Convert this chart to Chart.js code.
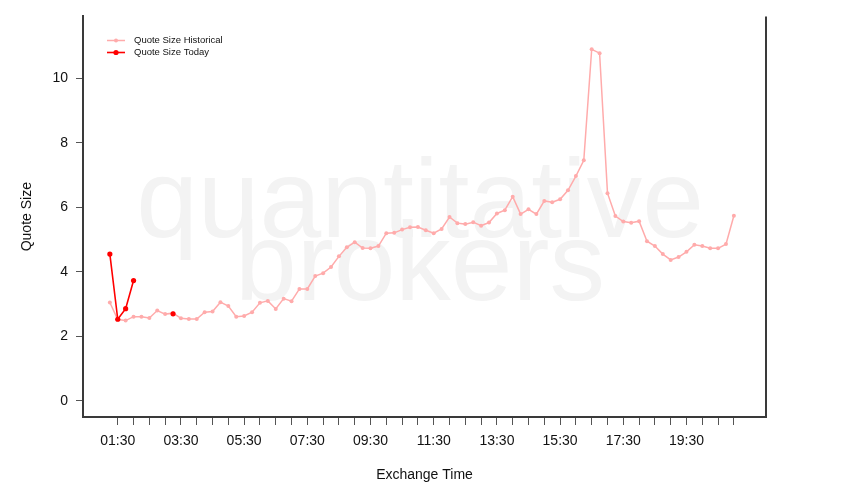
<!DOCTYPE html>
<html>
<head>
<meta charset="utf-8">
<script src="https://cdn.jsdelivr.net/npm/chart.js@4"></script>
<style>
  html, body { margin: 0; padding: 0; background: #fff; }
  canvas { display: block; }
</style>
</head>
<body>
<canvas id="quoteChart" width="850" height="500"></canvas>
<script>
const times = [
  '01:15', '01:30', '01:45', '02:00', '02:15', '02:30', '02:45', '03:00',
  '03:15', '03:30', '03:45', '04:00', '04:15', '04:30', '04:45', '05:00',
  '05:15', '05:30', '05:45', '06:00', '06:15', '06:30', '06:45', '07:00',
  '07:15', '07:30', '07:45', '08:00', '08:15', '08:30', '08:45', '09:00',
  '09:15', '09:30', '09:45', '10:00', '10:15', '10:30', '10:45', '11:00',
  '11:15', '11:30', '11:45', '12:00', '12:15', '12:30', '12:45', '13:00',
  '13:15', '13:30', '13:45', '14:00', '14:15', '14:30', '14:45', '15:00',
  '15:15', '15:30', '15:45', '16:00', '16:15', '16:30', '16:45', '17:00',
  '17:15', '17:30', '17:45', '18:00', '18:15', '18:30', '18:45', '19:00',
  '19:15', '19:30', '19:45', '20:00', '20:15', '20:30', '20:45', '21:00'
];

const historicalSize = [
  3.05, 2.52, 2.49, 2.61, 2.61, 2.57, 2.80, 2.69,
  2.72, 2.56, 2.54, 2.54, 2.75, 2.77, 3.06, 2.94,
  2.61, 2.63, 2.75, 3.04, 3.10, 2.85, 3.17, 3.09,
  3.47, 3.47, 3.87, 3.96, 4.15, 4.48, 4.76, 4.92,
  4.74, 4.73, 4.80, 5.20, 5.21, 5.31, 5.38, 5.39,
  5.29, 5.20, 5.33, 5.70, 5.51, 5.48, 5.54, 5.43,
  5.53, 5.81, 5.91, 6.33, 5.79, 5.94, 5.79, 6.20,
  6.16, 6.25, 6.53, 6.97, 7.46, 10.90, 10.78, 6.44,
  5.73, 5.56, 5.52, 5.57, 4.95, 4.80, 4.55, 4.37,
  4.46, 4.62, 4.84, 4.80, 4.73, 4.73, 4.86, 5.74
];

// today only has the first few slots
const todaySize = [4.55, 2.53, 2.86, 3.73, null, null, null, null, 2.70];

const xTickLabels = ['01:30', '03:30', '05:30', '07:30', '09:30', '11:30', '13:30', '15:30', '17:30', '19:30'];
const yTicks = [0, 2, 4, 6, 8, 10];

const histColor = '#ffabab';
const todayColor = '#ff0000';
const frameColor = '#3a3a3a';
const fontFamily = '"Liberation Sans", Arial, Helvetica, sans-serif';

function toMinutes(t) {
  const [h, m] = t.split(':').map(Number);
  return h * 60 + m;
}

function toClock(min) {
  const h = Math.floor(min / 60);
  const m = min % 60;
  return String(h).padStart(2, '0') + ':' + String(m).padStart(2, '0');
}

const historicalPoints = historicalSize.map((v, i) => ({ x: toMinutes(times[i]), y: v }));
const todayPoints = todaySize.map((v, i) => ({ x: toMinutes(times[i]), y: v }));

const watermark = {
  id: 'watermark',
  beforeDraw(chart) {
    const ctx = chart.ctx;
    ctx.save();
    ctx.fillStyle = '#f3f3f3';
    ctx.font = '111px ' + fontFamily;
    ctx.textAlign = 'center';
    ctx.textBaseline = 'alphabetic';
    ctx.fillText('quantitative', 420, 237);
    ctx.fillText('brokers', 420, 300);
    ctx.restore();
  }
};

const frameAndLegend = {
  id: 'frameAndLegend',
  afterDraw(chart) {
    const ctx = chart.ctx;
    const area = chart.chartArea;
    ctx.save();
    // right side of the box
    ctx.strokeStyle = frameColor;
    ctx.lineWidth = 2;
    ctx.beginPath();
    ctx.moveTo(area.right, area.top);
    ctx.lineTo(area.right, area.bottom + 1);
    ctx.stroke();

    // legend in the top left corner
    const items = [chart.data.datasets[1], chart.data.datasets[0]];
    ctx.font = '9.5px ' + fontFamily;
    ctx.textBaseline = 'middle';
    ctx.textAlign = 'left';
    items.forEach((ds, i) => {
      const y = 40.5 + i * 12;
      ctx.strokeStyle = ds.borderColor;
      ctx.lineWidth = ds.borderWidth;
      ctx.beginPath();
      ctx.moveTo(107, y);
      ctx.lineTo(125, y);
      ctx.stroke();
      ctx.fillStyle = ds.pointBackgroundColor;
      ctx.beginPath();
      ctx.arc(116, y, ds.pointRadius, 0, Math.PI * 2);
      ctx.fill();
      ctx.fillStyle = '#111';
      ctx.fillText(ds.label, 134, y);
    });
    ctx.restore();
  }
};

new Chart(document.getElementById('quoteChart'), {
  type: 'line',
  data: {
    datasets: [
      {
        label: 'Quote Size Today',
        data: todayPoints,
        borderColor: todayColor,
        backgroundColor: todayColor,
        pointBackgroundColor: todayColor,
        borderWidth: 1.6,
        pointRadius: 2.6,
        pointBorderWidth: 0,
        spanGaps: false,
        order: 1
      },
      {
        label: 'Quote Size Historical',
        data: historicalPoints,
        borderColor: histColor,
        backgroundColor: histColor,
        pointBackgroundColor: histColor,
        borderWidth: 1.5,
        pointRadius: 2,
        pointBorderWidth: 0,
        order: 2
      }
    ]
  },
  options: {
    responsive: false,
    animation: false,
    layout: { padding: { top: 16, right: 84, left: 0, bottom: 0 } },
    plugins: {
      legend: { display: false },
      tooltip: { enabled: false }
    },
    scales: {
      x: {
        type: 'linear',
        min: 24,
        max: 1321,
        afterFit: s => { s.height = 83; },
        afterBuildTicks: s => {
          const ticks = [];
          for (let m = toMinutes('01:30'); m <= toMinutes('21:00'); m += 30) ticks.push({ value: m });
          s.ticks = ticks;
        },
        grid: {
          drawOnChartArea: false,
          drawTicks: true,
          tickLength: 8,
          tickColor: '#555',
          tickWidth: 1
        },
        border: { display: true, color: frameColor, width: 2 },
        ticks: {
          autoSkip: false,
          maxRotation: 0,
          padding: 8,
          color: '#111',
          font: { family: fontFamily, size: 14 },
          callback: v => {
            const label = toClock(v);
            return xTickLabels.includes(label) ? label : '';
          }
        },
        title: {
          display: true,
          text: 'Exchange Time',
          color: '#111',
          font: { family: fontFamily, size: 14 },
          padding: { top: 0, bottom: 16.6 }
        }
      },
      y: {
        min: -0.5,
        max: 11.92,
        afterFit: s => { s.width = 83; },
        afterBuildTicks: s => { s.ticks = yTicks.map(v => ({ value: v })); },
        grid: {
          drawOnChartArea: false,
          drawTicks: true,
          tickLength: 7,
          tickColor: '#555',
          tickWidth: 1
        },
        border: { display: true, color: frameColor, width: 2 },
        ticks: {
          padding: 8,
          color: '#111',
          font: { family: fontFamily, size: 14 }
        },
        title: {
          display: true,
          text: 'Quote Size',
          color: '#111',
          font: { family: fontFamily, size: 14 },
          padding: { top: 19, bottom: 0 }
        }
      }
    }
  },
  plugins: [watermark, frameAndLegend]
});
</script>
</body>
</html>
